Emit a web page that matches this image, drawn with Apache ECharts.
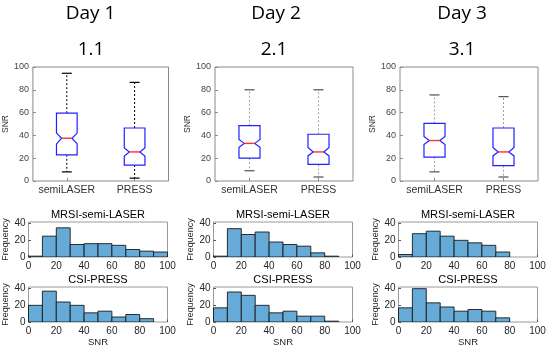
<!DOCTYPE html>
<html><head><meta charset="utf-8">
<script src="https://cdn.jsdelivr.net/npm/echarts@6/dist/echarts.min.js"></script>
<style>html,body{margin:0;padding:0;background:#fff}#c{width:550px;height:348px}</style>
</head><body><div id="c"></div>
<script>
const days = ['Day 1', 'Day 2', 'Day 3'];
const sessions = ['1.1', '2.1', '3.1'];
const boxCategories = ['semiLASER', 'PRESS'];
// per group: [lower whisker, Q1, notch low, median, notch high, Q3, upper whisker]
const day1Box = [[8, 23, 32.5, 37.5, 42, 59.5, 94.5], [2.5, 14, 22, 25.5, 29, 46.5, 86.5]];
const day2Box = [[9, 20, 29.5, 33, 36.5, 48.5, 80], [3.5, 14.5, 22, 25.5, 29.5, 41, 80]];
const day3Box = [[8, 21, 32, 35.5, 39, 50.5, 75.5], [3.5, 13.5, 22, 25.5, 29.5, 46.5, 74]];
const boxTicks = [0, 20, 40, 60, 80, 100];

const binEdges = [0, 10, 20, 30, 40, 50, 60, 70, 80, 90, 100];
const histTitles = ['MRSI-semi-LASER', 'CSI-PRESS'];
const day1SemiLaser = [1, 25, 35, 15, 16, 16, 14, 9, 7, 6];
const day1Press = [20, 37, 24, 20, 11, 13, 6, 9, 4, 0];
const day2SemiLaser = [1, 34, 27, 30, 18, 15, 13, 5, 1, 0];
const day2Press = [17, 36, 32, 20, 11, 13, 7, 7, 1, 0];
const day3SemiLaser = [3, 28, 31, 25, 20, 17, 14, 6, 0, 0];
const day3Press = [17, 40, 23, 18, 13, 15, 13, 5, 0, 0];
const histXTicks = [0, 20, 40, 60, 80, 100];
const histYTicks = [0, 20, 40];

const boxData = [day1Box, day2Box, day3Box];
const histData = [[day1SemiLaser, day1Press], [day2SemiLaser, day2Press], [day3SemiLaser, day3Press]];

// layout (pixels)
const boxLeft = [30.5, 215, 400], boxWidth = 138, boxTop = 67, boxHeight = 114;
const histLeft = [28.5, 213.5, 398.5], histWidth = 139, histTop = [222, 287], histHeight = 35;
const dayCenter = [90.5, 276, 462], sessionCenter = [91, 274, 462];
const whiskerStyle = [
  {color: '#000', cap: '#000'},
  {color: '#a0a0a0', cap: '#505050'},
  {color: '#a0a0a0', cap: '#505050'}
];

const grids = [], xAxes = [], yAxes = [], series = [], graphics = [];

function makeBoxRender(ws) {
  return function (params, api) {
    const idx = api.value(0);
    const band = api.size([1, 0])[0];
    const w = band * 0.305, half = w / 2, ind = w * 0.25;
    const cx = api.coord([idx, 0])[0];
    const y = k => api.coord([idx, api.value(k)])[1];
    const lw = y(1), q1 = y(2), nl = y(3), md = y(4), nh = y(5), q3 = y(6), uw = y(7);
    const l = cx - half, r = cx + half;
    const capHalf = 5;
    return {
      type: 'group',
      children: [
        {type: 'line', shape: {x1: cx, y1: q3, x2: cx, y2: uw}, style: {stroke: ws.color, lineWidth: 1, lineDash: [2, 2]}},
        {type: 'line', shape: {x1: cx, y1: q1, x2: cx, y2: lw}, style: {stroke: ws.color, lineWidth: 1, lineDash: [2, 2]}},
        {type: 'line', shape: {x1: cx - capHalf, y1: uw, x2: cx + capHalf, y2: uw}, style: {stroke: ws.cap, lineWidth: 1.2}},
        {type: 'line', shape: {x1: cx - capHalf, y1: lw, x2: cx + capHalf, y2: lw}, style: {stroke: ws.cap, lineWidth: 1.2}},
        {type: 'polygon', shape: {points: [[l, q1], [r, q1], [r, nl], [r - ind, md], [r, nh], [r, q3], [l, q3], [l, nh], [l + ind, md], [l, nl]]},
          style: {fill: '#fff', stroke: '#2020ff', lineWidth: 1.2}},
        {type: 'line', shape: {x1: l + ind, y1: md, x2: r - ind, y2: md}, style: {stroke: '#ff3030', lineWidth: 1.4}}
      ]
    };
  };
}

function renderHist(params, api) {
  const c = api.value(2);
  if (!c) return null;
  const p0 = api.coord([api.value(0), c]);
  const p1 = api.coord([api.value(1), 0]);
  return {type: 'rect', shape: {x: p0[0], y: p0[1], width: p1[0] - p0[0], height: p1[1] - p0[1]},
    style: {fill: '#66aad7', stroke: '#1a1a1a', lineWidth: 0.9}};
}

for (let d = 0; d < 3; d++) {
  // box plot grid
  let gi = grids.length;
  grids.push({left: boxLeft[d], top: boxTop, width: boxWidth, height: boxHeight, show: true, borderColor: '#8a8a8a', borderWidth: 1, backgroundColor: 'transparent'});
  xAxes.push({gridIndex: gi, type: 'category', data: boxCategories, boundaryGap: true,
    axisLine: {show: false}, axisTick: {show: true, inside: true, length: 3, alignWithLabel: true, interval: 0, lineStyle: {color: '#8a8a8a'}},
    axisLabel: {margin: 4, interval: 0, fontFamily: 'Liberation Sans', fontSize: 10.5, color: '#333'}, splitLine: {show: false}});
  yAxes.push({gridIndex: gi, type: 'value', min: 0, max: 100, interval: 20,
    name: 'SNR', nameLocation: 'middle', nameGap: 19, nameTextStyle: {fontFamily: 'Liberation Sans', fontSize: 8.5, color: '#333'},
    axisLine: {show: false}, axisTick: {show: true, inside: true, length: 3, lineStyle: {color: '#8a8a8a'}},
    axisLabel: {margin: 4, fontFamily: 'Liberation Sans', fontSize: 9, color: '#444', customValues: boxTicks}, splitLine: {show: false}});
  series.push({type: 'custom', xAxisIndex: xAxes.length - 1, yAxisIndex: yAxes.length - 1,
    renderItem: makeBoxRender(whiskerStyle[d]),
    encode: {x: 0, y: [1, 2, 3, 4, 5, 6, 7]},
    data: boxData[d].map((s, i) => [i].concat(s))});

  graphics.push({type: 'text', x: dayCenter[d], y: 13.5, style: {text: days[d], font: '19px "Open Sans"', fill: '#000', align: 'center', verticalAlign: 'middle'}});
  graphics.push({type: 'text', x: sessionCenter[d], y: 50, style: {text: sessions[d], font: '19px "Open Sans"', fill: '#000', align: 'center', verticalAlign: 'middle'}});

  for (let h = 0; h < 2; h++) {
    gi = grids.length;
    grids.push({left: histLeft[d], top: histTop[h], width: histWidth, height: histHeight, show: true, borderColor: '#9a9a9a', borderWidth: 1, backgroundColor: 'transparent'});
    xAxes.push({gridIndex: gi, type: 'value', min: 0, max: 100, interval: 20,
      name: h === 1 ? 'SNR' : '', nameLocation: 'middle', nameGap: 12, nameTextStyle: {fontFamily: 'Liberation Sans', fontSize: 9.5, color: '#262626'},
      axisLine: {show: false}, axisTick: {show: true, inside: true, length: 2.5, lineStyle: {color: '#555'}},
      axisLabel: {margin: 4, fontFamily: 'Liberation Sans', fontSize: 10, color: '#262626', customValues: histXTicks}, splitLine: {show: false}});
    yAxes.push({gridIndex: gi, type: 'value', min: 0, max: 42,
      name: 'Frequency', nameLocation: 'middle', nameGap: 15, nameTextStyle: {fontFamily: 'Liberation Sans', fontSize: 9, color: '#262626'},
      axisLine: {show: false}, axisTick: {show: true, inside: true, length: 2.5, customValues: histYTicks, lineStyle: {color: '#555'}},
      axisLabel: {margin: 3, fontFamily: 'Liberation Sans', fontSize: 10, color: '#262626', customValues: histYTicks}, splitLine: {show: false}});
    series.push({type: 'custom', xAxisIndex: xAxes.length - 1, yAxisIndex: yAxes.length - 1,
      renderItem: renderHist, clip: true,
      encode: {x: [0, 1], y: 2},
      data: histData[d][h].map((c, i) => [binEdges[i], binEdges[i + 1], c])});
    graphics.push({type: 'text', x: histLeft[d] + histWidth / 2, y: histTop[h] - 7.5,
      style: {text: histTitles[h], font: '11px "Liberation Sans"', fill: '#000', align: 'center', verticalAlign: 'middle'}});
  }
}

const chart = echarts.init(document.getElementById('c'), null, {renderer: 'canvas'});
chart.setOption({
  animation: false,
  backgroundColor: '#fff',
  grid: grids, xAxis: xAxes, yAxis: yAxes, series: series, graphic: graphics
});
</script></body></html>
